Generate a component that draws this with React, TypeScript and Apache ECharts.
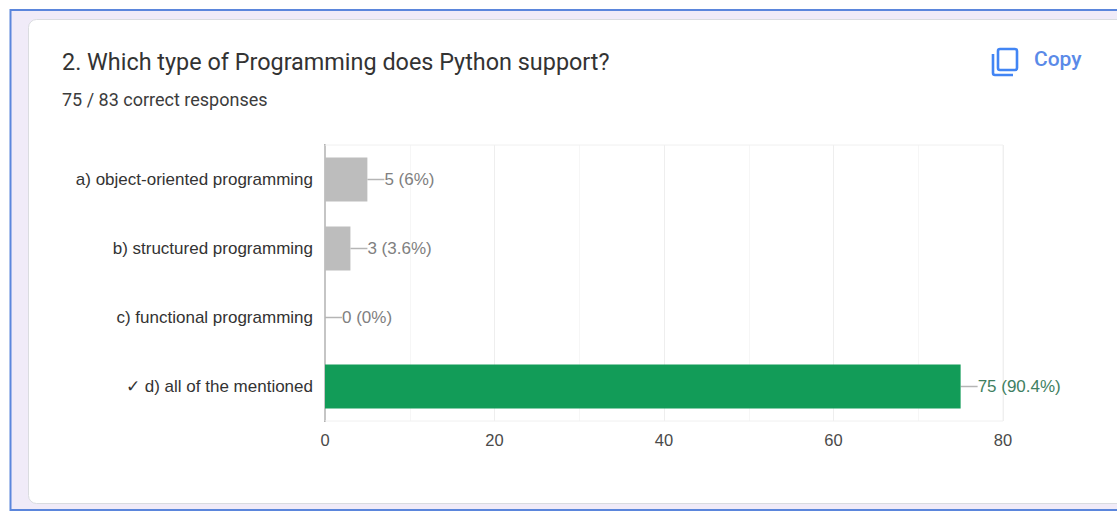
import React, { useEffect, useRef } from "react";
import * as echarts from "echarts";

const categories = [
  "a) object-oriented programming",
  "b) structured programming",
  "c) functional programming",
  "✓ d) all of the mentioned",
];
const counts = [5, 3, 0, 75];
const percents = ["6%", "3.6%", "0%", "90.4%"];
const barColors = ["#bdbdbd", "#bdbdbd", "#bdbdbd", "#129c58"];
const labelColors = ["#808080", "#808080", "#808080", "#3f7f62"];
const questionTitle = "2. Which type of Programming does Python support?";
const scoreLine = "75 / 83 correct responses";
const copyLabel = "Copy";

const copyIconPath =
  "M2 6 L2 25 Q2 27 4 27 L22 27 M9 1 L24 1 Q26 1 26 3 L26 20 Q26 22 24 22 L9 22 Q7 22 7 20 L7 3 Q7 1 9 1 Z";

echarts.graphic.registerShape(
  "copyIcon",
  echarts.graphic.extendPath(copyIconPath, {}) as any
);

export default function App() {
  const ref = useRef<HTMLDivElement>(null);
  useEffect(() => {
    const chart = echarts.init(ref.current!, null, { renderer: "svg" });
    chart.setOption({
      animation: false,
      backgroundColor: "#ffffff",
      grid: {
        left: 325,
        top: 145,
        width: 678,
        height: 276,
        show: true,
        borderColor: "#f0f0f0",
        borderWidth: 1,
        backgroundColor: "transparent",
        z: 3,
      },
      xAxis: {
        type: "value",
        min: 0,
        max: 80,
        interval: 20,
        axisLine: { show: false },
        axisTick: { show: false },
        splitLine: { show: true, lineStyle: { color: "#eeeeee", width: 1 } },
        minorTick: { show: false, splitNumber: 2 },
        minorSplitLine: { show: true, lineStyle: { color: "#f6f6f6", width: 1 } },
        axisLabel: {
          color: "#4a4a4a",
          fontFamily: "Liberation Sans",
          fontSize: 16.5,
          margin: 10,
        },
      },
      yAxis: {
        type: "category",
        inverse: true,
        data: categories,
        axisLine: { show: true, lineStyle: { color: "#9a9a9a", width: 2 } },
        axisTick: { show: false },
        axisLabel: {
          color: "#333333",
          fontFamily: "Liberation Sans",
          fontSize: 17,
          margin: 12,
        },
      },
      series: [
        {
          type: "bar",
          barWidth: 44,
          z: 4,
          data: counts.map((v, i) => ({
            value: v,
            itemStyle: { color: barColors[i] },
            label: {
              color: labelColors[i],
              formatter: `${v} (${percents[i]})`,
            },
          })),
          label: {
            show: true,
            position: "right",
            distance: 0,
            fontFamily: "Liberation Sans",
            fontSize: 17,
          },
          labelLayout: { dx: 17 },
          labelLine: { show: true, lineStyle: { color: "#b5b5b5", width: 1.5 } },
        },
      ],
      graphic: [
        { type: "rect", z: -10, silent: true, shape: { x: 10.5, y: 10, width: 1120, height: 500 }, style: { fill: "#f0ebf8", stroke: "#5b86dc", lineWidth: 2 } },
        { type: "rect", z: -9, silent: true, shape: { x: 28.5, y: 19.5, width: 1110, height: 484, r: 8 }, style: { fill: "#ffffff", stroke: "#dadce0", lineWidth: 1 } },
        { type: "text", z: 10, x: 62, y: 50, style: { text: questionTitle, fill: "#333333", font: "23.4px Roboto" } },
        { type: "text", z: 10, x: 62, y: 90, style: { text: scoreLine, fill: "#3c3c3c", font: "18px Roboto" } },
        { type: "copyIcon", z: 10, x: 991, y: 48, style: { fill: "none", stroke: "#4285f4", lineWidth: 2.6 } },
        { type: "text", z: 10, x: 1034, y: 48, style: { text: copyLabel, fill: "#5a8ae8", font: "500 21px Roboto" } },
      ],
    });
    return () => chart.dispose();
  }, []);
  return (
    <div
      ref={ref}
      style={{ position: "absolute", left: 0, top: 0, width: 1117, height: 511, overflow: "hidden" }}
    />
  );
}
